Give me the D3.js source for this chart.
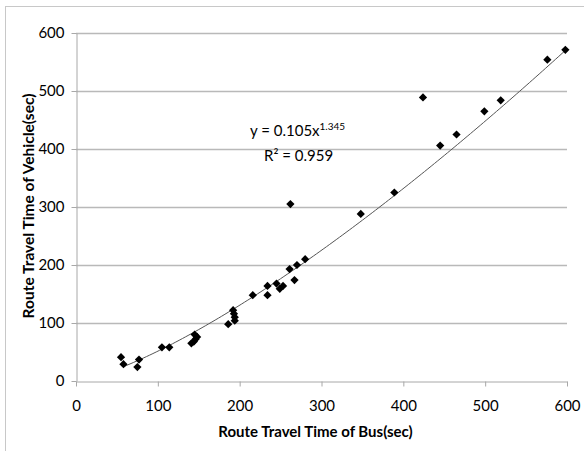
<!DOCTYPE html>
<html>
<head>
<meta charset="utf-8">
<script src="https://cdn.jsdelivr.net/npm/d3@7"></script>
<style>
  body { margin: 0; background: #fff; }
  svg { display: block; }
  text { font-family: Lato, "Open Sans", sans-serif; fill: #000; }
</style>
</head>
<body>
<svg id="chart" width="584" height="451"></svg>
<script>
// bus travel time (x) vs vehicle travel time (y), seconds
var busTime = [55, 58, 75, 77, 105, 114, 141, 144, 146, 145, 148, 186, 192, 193, 194, 194,
               216, 234, 234, 245, 249, 253, 261, 267, 270, 280, 262, 348, 389,
               424, 445, 465, 499, 519, 576, 598];
var vehicleTime = [41, 29, 24, 37, 58, 58, 65, 68, 72, 80, 76, 98, 122, 116, 110, 104,
                   148, 148, 164, 168, 159, 164, 193, 174, 200, 210, 305, 288, 325,
                   489, 406, 425, 465, 484, 554, 571];
var xTicks = [0, 100, 200, 300, 400, 500, 600];
var yTicks = [0, 100, 200, 300, 400, 500, 600];
// power trendline shown on the chart
var fitA = 0.105, fitB = 1.345, fitRange = [58, 598];

var svg = d3.select("#chart"),
    margin = {top: 33, right: 17, bottom: 70, left: 76},
    width = +svg.attr("width") - margin.left - margin.right,
    height = +svg.attr("height") - margin.top - margin.bottom;

// outer chart border (right/bottom edges fall off the picture)
svg.append("rect")
    .attr("x", 5.5).attr("y", 6.5)
    .attr("width", 640).attr("height", 500)
    .attr("fill", "none")
    .attr("stroke", "#c8c8c8");

var g = svg.append("g").attr("transform", "translate(" + margin.left + "," + margin.top + ")");

var x = d3.scaleLinear().domain([0, 600]).range([0, width]);
var y = d3.scaleLinear().domain([0, 600]).range([height, 0]);

// horizontal gridlines
g.append("g")
  .selectAll("line")
  .data(yTicks.slice(1))
  .enter().append("line")
    .attr("x1", 0).attr("x2", width)
    .attr("y1", function(d) { return Math.round(y(d)) + 0.5; })
    .attr("y2", function(d) { return Math.round(y(d)) + 0.5; })
    .attr("stroke", "#b9b9b9")
    .attr("stroke-width", 1.3);

var xAxis = g.append("g")
    .attr("transform", "translate(0," + (Math.round(height) + 0.5) + ")")
    .call(d3.axisBottom(x).tickValues(xTicks).tickSize(5).tickPadding(14).tickSizeOuter(0));

var yAxis = g.append("g")
    .attr("transform", "translate(0.5,0)")
    .call(d3.axisLeft(y).tickValues(yTicks).tickSize(5).tickPadding(7).tickSizeOuter(0));

[xAxis, yAxis].forEach(function(a) {
  a.select(".domain").attr("stroke", "#a8a8a8");
  a.selectAll(".tick line").attr("stroke", "#a8a8a8");
  a.selectAll(".tick text")
    .attr("font-family", "Lato, sans-serif")
    .attr("font-size", 15)
    .attr("fill", "#111");
});

// trendline
var fitXs = d3.range(fitRange[0], fitRange[1] + 1, 4);
fitXs.push(fitRange[1]);
g.append("path")
    .datum(fitXs)
    .attr("fill", "none")
    .attr("stroke", "#555")
    .attr("stroke-width", 1)
    .attr("d", d3.line()
      .x(function(d) { return x(d); })
      .y(function(d) { return y(fitA * Math.pow(d, fitB)); }));

// data points
var diamond = d3.symbol().type(d3.symbolSquare).size(34);
g.append("g")
  .selectAll("path")
  .data(busTime)
  .enter().append("path")
    .attr("d", diamond)
    .attr("fill", "#000")
    .attr("transform", function(d, i) {
      return "translate(" + x(d) + "," + y(vehicleTime[i]) + ") rotate(45)";
    });

// equation label
var eq = svg.append("text")
    .attr("x", 250).attr("y", 136)
    .attr("font-size", 15);
eq.append("tspan").text("y = 0.105x");
eq.append("tspan").attr("dy", -6).attr("font-size", 10).text(fitB);

svg.append("text")
    .attr("x", 264).attr("y", 161)
    .attr("font-size", 15)
    .text("R\u00b2 = 0.959");

// axis titles
svg.append("text")
    .attr("x", margin.left + width / 2 - 6)
    .attr("y", 437)
    .attr("text-anchor", "middle")
    .attr("font-size", 15)
    .attr("font-weight", "bold")
    .text("Route Travel Time of Bus(sec)");

svg.append("text")
    .attr("transform", "translate(34,206) rotate(-90)")
    .attr("text-anchor", "middle")
    .attr("font-size", 15.5)
    .attr("font-weight", "bold")
    .text("Route Travel Time of Vehicle(sec)");
</script>
</body>
</html>
